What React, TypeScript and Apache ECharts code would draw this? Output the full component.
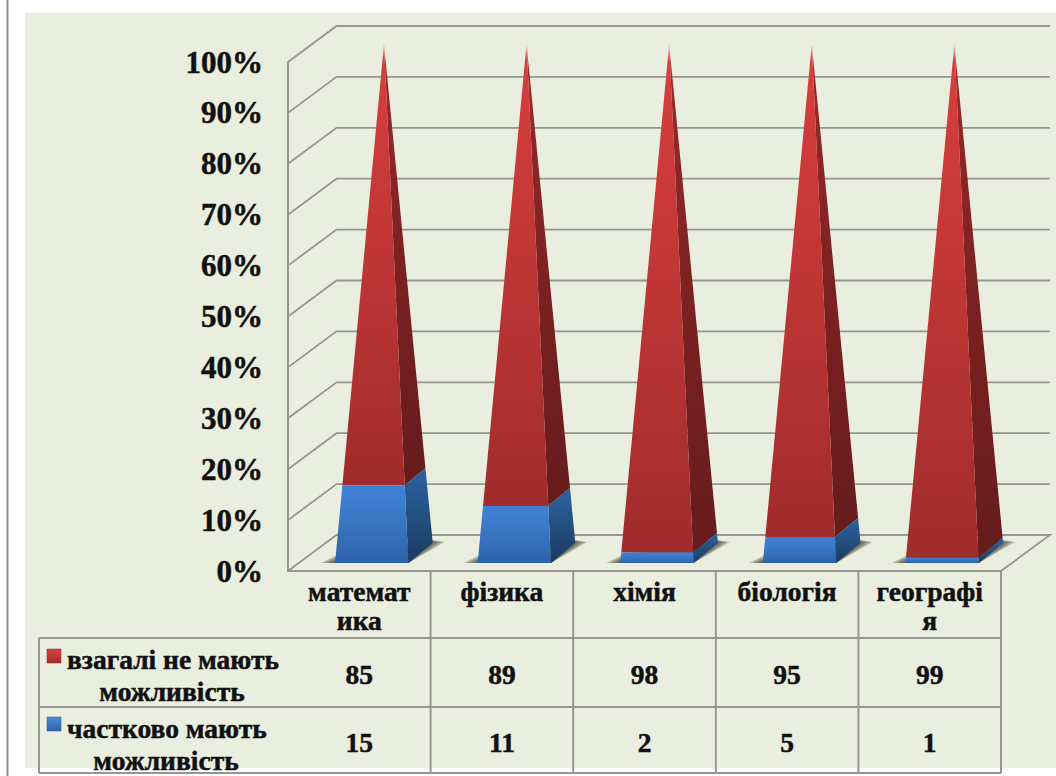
import React, { useEffect, useRef } from "react";
import * as echarts from "echarts";

// Chart content
const categories = ["математ\nика", "фізика", "хімія", "біологія", "географі\nя"];
const noAccess = [85, 89, 98, 95, 99];
const partialAccess = [15, 11, 2, 5, 1];
const seriesNames = ["взагалі не мають", "частково мають"];
const seriesNameTail = "можливість";
const wallTicks = [10, 20, 30, 40, 50, 60, 70, 80, 90, 100];

// Look
const SERIF = '"Liberation Serif", "Times New Roman", serif';
const INK = "#111111";
const PANEL = "#EAEEDF";
const LINE = "#94968F";
const WALL_DX = 48.5;
const WALL_DY = -36;
const GRID = { left: 288, top: 62, width: 713, height: 509 };
const ROW_Y = [638, 707, 773];
const TABLE_LEFT = 39;
const TEXT_WEIGHT = 0.5;
const SHADOW_LAYERS = [12, 9, 6, 3, 0];

const grad = (stops: [number, string][]) =>
  new echarts.graphic.LinearGradient(
    0, 0, 0, 1,
    stops.map(([offset, color]) => ({ offset, color }))
  );

const FILL = {
  red: {
    front: () => grad([[0, "#E5B3A9"], [0.035, "#D63E3E"], [0.45, "#C13636"], [1, "#A02C2B"]]),
    side: () => grad([[0, "#D9A39B"], [0.05, "#982A2A"], [0.5, "#7C2121"], [1, "#661C1B"]]),
  },
  blue: {
    front: () => grad([[0, "#4081D6"], [0.5, "#3A75C2"], [1, "#2D62A8"]]),
    side: () => grad([[0, "#2C62A3"], [0.5, "#24507F"], [1, "#1B3A64"]]),
  },
};

// Corners of one pyramid on screen, and a point part-way up an edge towards the apex.
function pyramidFrame(api: any, index: number) {
  const [cx, y0] = api.coord([index, 0]);
  const y100 = api.coord([index, 100])[1];
  const band = api.size([1, 0])[0];
  const apex = [cx + band * 0.173, y100 - 18];
  const fl = [cx - band * 0.17, y0 - 8];
  const fr = [cx + band * 0.344, y0 - 8];
  const br = [cx + band * 0.515, y0 - 28];
  const up = (p: number[], value: number) => [
    p[0] + (apex[0] - p[0]) * (value / 100),
    p[1] + (apex[1] - p[1]) * (value / 100),
  ];
  return { fl, fr, br, up };
}

const segmentItem = (kind: "red" | "blue") => (_: any, api: any) => {
  const i = api.value(0);
  const low = api.value(1);
  const high = api.value(2);
  const { fl, fr, br, up } = pyramidFrame(api, i);
  return {
    type: "group",
    children: [
      {
        type: "polygon",
        shape: { points: [up(fr, low), up(br, low), up(br, high), up(fr, high)] },
        style: { fill: FILL[kind].side() },
      },
      {
        type: "polygon",
        shape: { points: [up(fl, low), up(fr, low), up(fr, high), up(fl, high)] },
        style: { fill: FILL[kind].front() },
      },
    ],
  };
};

// Soft cast shadow on the floor: stacked translucent layers fade out towards the far corners.
const shadowItem = (_: any, api: any) => {
  const { fl, fr, br } = pyramidFrame(api, api.value(0));
  return {
    type: "group",
    children: SHADOW_LAYERS.map((reach) => ({
      type: "polygon",
      shape: {
        points: [
          [fl[0] - 2 - reach, fl[1]],
          [fr[0], fr[1]],
          [br[0] + reach, br[1] - 1],
          [br[0] - 6, br[1] - 2 - reach / 6],
          [fl[0] + 6, fl[1] - 4 - reach / 2],
        ],
      },
      style: { fill: "rgba(72,72,60,0.3)" },
    })),
  };
};

// Back and side walls: each tick climbs from the value axis to the rear plane, then runs across.
const wallItem = (params: any, api: any) => {
  const y = api.coord([0, api.value(0)])[1];
  const left = params.coordSys.x;
  const right = left + params.coordSys.width;
  const line = { stroke: LINE, lineWidth: 1.8, fill: "none" };
  const isFloor = api.value(0) === 0;
  return {
    type: "group",
    children: [
      {
        type: "polyline",
        shape: {
          points: [
            [left, y],
            [left + WALL_DX, y + WALL_DY],
            [right + WALL_DX + 0.5, y + WALL_DY],
            ...(isFloor ? [[right, y]] : []),
          ],
        },
        style: line,
      },
    ],
  };
};

// Data table under the axis: one column per category.
const tableItem = (_: any, api: any) => {
  const i = api.value(0);
  const cx = api.coord([i, 0])[0];
  const band = api.size([1, 0])[0];
  const cell = (text: string, y: number) => ({
    type: "text",
    style: {
      text,
      x: cx,
      y,
      align: "center",
      verticalAlign: "middle",
      font: `bold 27.5px ${SERIF}`,
      fill: INK,
      stroke: INK,
      lineWidth: TEXT_WEIGHT,
    },
  });
  return {
    type: "group",
    children: [
      {
        type: "line",
        shape: { x1: cx + band / 2, y1: api.coord([i, 0])[1], x2: cx + band / 2, y2: ROW_Y[2] },
        style: { stroke: LINE, lineWidth: 2 },
      },
      cell(String(api.value(1)), (ROW_Y[0] + ROW_Y[1]) / 2 + 2),
      cell(String(api.value(2)), (ROW_Y[1] + ROW_Y[2]) / 2 + 2),
    ],
  };
};

const legendMark = (y: number, top: string, bottom: string, edge: string) => ({
  type: "rect",
  z: 6,
  shape: { x: 47, y, width: 14, height: 14 },
  style: {
    fill: new echarts.graphic.LinearGradient(0, 0, 0, 1, [
      { offset: 0, color: top },
      { offset: 1, color: bottom },
    ]),
    stroke: edge,
    lineWidth: 0.5,
  },
});

const legendText = (text: string, x: number, y: number, align: string) => ({
  type: "text",
  z: 6,
  style: {
    text,
    x,
    y,
    align,
    verticalAlign: "middle",
    font: `bold 27.5px ${SERIF}`,
    fill: INK,
    stroke: INK,
    lineWidth: TEXT_WEIGHT,
  },
});

const tableRow = (y: number) => ({
  type: "line",
  z: 5,
  shape: { x1: TABLE_LEFT, y1: y, x2: GRID.left + GRID.width, y2: y },
  style: { stroke: LINE, lineWidth: 2 },
});

export default function App() {
  const ref = useRef<HTMLDivElement>(null);

  useEffect(() => {
    const chart = echarts.init(ref.current!, undefined, { renderer: "svg" });
    chart.setOption({
      animation: false,
      backgroundColor: "#FFFFFF",
      grid: { ...GRID },
      xAxis: {
        type: "category",
        data: categories,
        axisTick: { show: false },
        axisLine: { show: true, lineStyle: { color: LINE, width: 2 } },
        axisLabel: {
          interval: 0,
          margin: 6,
          fontFamily: SERIF,
          fontWeight: "bold",
          fontSize: 27.5,
          lineHeight: 29,
          color: INK,
          textBorderColor: INK,
          textBorderWidth: TEXT_WEIGHT,
          verticalAlign: "top",
        },
        z: 4,
      },
      yAxis: {
        type: "value",
        min: 0,
        max: 100,
        interval: 10,
        axisTick: { show: false },
        splitLine: { show: false },
        axisLine: { show: true, lineStyle: { color: LINE, width: 2 } },
        axisLabel: {
          margin: 25,
          formatter: "{value}%",
          fontFamily: SERIF,
          fontWeight: "bold",
          fontSize: 31,
          color: INK,
          textBorderColor: INK,
          textBorderWidth: TEXT_WEIGHT,
        },
        z: 4,
      },
      graphic: {
        elements: [
          { type: "rect", z: -2, shape: { x: 25, y: 13, width: 1031, height: 755 }, style: { fill: PANEL } },
          { type: "line", z: -1, shape: { x1: 7.5, y1: 0, x2: 7.5, y2: 776 }, style: { stroke: "#8F9090", lineWidth: 2 } },
          { type: "line", z: 5, shape: { x1: TABLE_LEFT, y1: ROW_Y[0], x2: TABLE_LEFT, y2: ROW_Y[2] }, style: { stroke: LINE, lineWidth: 2 } },
          ...ROW_Y.map(tableRow),
          legendMark(649, "#D84444", "#A32C2C", "#8A2626"),
          legendMark(717, "#4A8ADB", "#2E62A4", "#285890"),
          legendText(seriesNames[0], 67, 659, "left"),
          legendText(seriesNameTail, 172, 691, "center"),
          legendText(seriesNames[1], 67, 728, "left"),
          legendText(seriesNameTail, 166, 760, "center"),
        ],
      },
      series: [
        {
          type: "custom",
          name: "walls",
          z: 1,
          coordinateSystem: "cartesian2d",
          silent: true,
          renderItem: wallItem,
          data: [0, ...wallTicks].map((v) => [v]),
          encode: { y: 0 },
        },
        {
          type: "custom",
          name: "shadow",
          z: 2,
          silent: true,
          renderItem: shadowItem,
          data: categories.map((_, i) => [i]),
          encode: { x: 0 },
        },
        {
          type: "custom",
          name: seriesNames[0],
          z: 3,
          renderItem: segmentItem("red"),
          data: categories.map((_, i) => [i, partialAccess[i], partialAccess[i] + noAccess[i]]),
          encode: { x: 0, y: 2 },
        },
        {
          type: "custom",
          name: seriesNames[1],
          z: 4,
          renderItem: segmentItem("blue"),
          data: categories.map((_, i) => [i, 0, partialAccess[i]]),
          encode: { x: 0, y: 2 },
        },
        {
          type: "custom",
          name: "table",
          z: 6,
          silent: true,
          renderItem: tableItem,
          data: categories.map((_, i) => [i, noAccess[i], partialAccess[i]]),
          encode: { x: 0 },
        },
      ],
    });
    return () => chart.dispose();
  }, []);

  return (
    <div
      ref={ref}
      style={{ position: "fixed", left: 0, top: 0, width: 1056, height: 776 }}
    />
  );
}
